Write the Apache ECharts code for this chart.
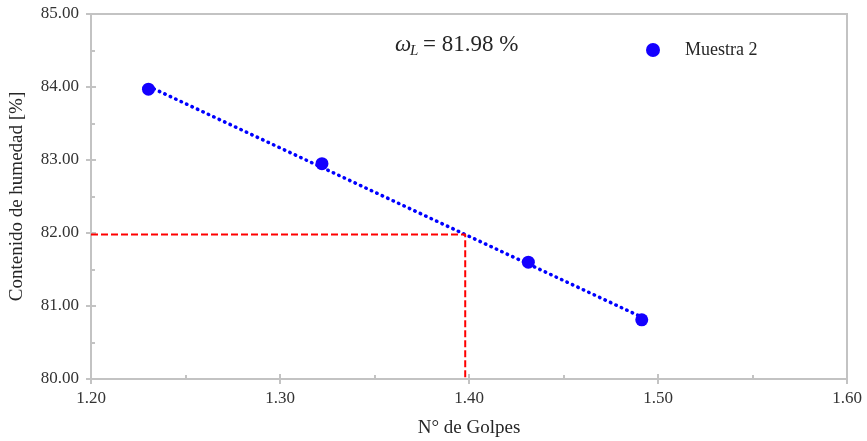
<!DOCTYPE html>
<html>
<head>
<meta charset="utf-8">
<script src="https://cdn.jsdelivr.net/npm/echarts@6/dist/echarts.min.js"></script>
<style>
  html, body { margin: 0; padding: 0; background: #ffffff; }
  #chart { width: 867px; height: 441px; }
</style>
</head>
<body>
<div id="chart"></div>
<script>
// log10 of the blow count for each test
const logGolpes = [1.2304, 1.3222, 1.4314, 1.4914];
// moisture content for each test [%]
const humedad = [83.97, 82.95, 81.60, 80.81];
// liquid limit read at 25 blows
const limiteLiquido = 81.98;
const logGolpes25 = 1.398;
const xTicks = { min: 1.2, max: 1.6, interval: 0.1 };
const yTicks = { min: 80, max: 85, interval: 1 };

// least-squares fit through the samples
function ajusteLineal(xs, ys) {
  const n = xs.length;
  const mx = xs.reduce((a, b) => a + b, 0) / n;
  const my = ys.reduce((a, b) => a + b, 0) / n;
  let sxy = 0, sxx = 0;
  for (let i = 0; i < n; i++) {
    sxy += (xs[i] - mx) * (ys[i] - my);
    sxx += (xs[i] - mx) * (xs[i] - mx);
  }
  const m = sxy / sxx;
  return x => my + m * (x - mx);
}
const recta = ajusteLineal(logGolpes, humedad);
const xIni = logGolpes[0], xFin = logGolpes[logGolpes.length - 1];

const FONT = '"Liberation Serif", "Times New Roman", serif';
const GRIS = '#c3c3c3';
const TEXTO = '#262626';

const puntos = logGolpes.map((x, i) => [x, humedad[i]]);

const chart = echarts.init(document.getElementById('chart'), null, { renderer: 'canvas' });

const axisBase = {
  type: 'value',
  axisLine: { show: true, lineStyle: { color: GRIS, width: 2 } },
  splitLine: { show: false }
};

chart.setOption({
  animation: false,
  backgroundColor: '#ffffff',
  grid: {
    left: 91, right: 20, top: 14, bottom: 62,
    containLabel: false, outerBoundsMode: 'none',
    show: true, borderColor: GRIS, borderWidth: 2
  },
  legend: {
    data: [{ name: 'Muestra 2', icon: 'circle' }],
    left: 641, top: 36,
    itemWidth: 14, itemHeight: 14,
    textStyle: { fontFamily: FONT, fontSize: 18, color: TEXTO, padding: [0, 0, 0, 20] }
  },
  xAxis: [
    Object.assign({}, axisBase, {
      min: xTicks.min, max: xTicks.max, interval: xTicks.interval,
      position: 'bottom',
      name: 'N° de Golpes', nameLocation: 'middle', nameGap: 40,
      nameTextStyle: { fontFamily: FONT, fontSize: 19, color: TEXTO },
      axisTick: { show: true, inside: false, length: 5, lineStyle: { color: GRIS, width: 2 } },
      axisLabel: { fontFamily: FONT, fontSize: 17, color: '#333333', margin: 11,
        formatter: v => v.toFixed(2) }
    }),
    Object.assign({}, axisBase, {
      min: xTicks.min, max: xTicks.max, interval: xTicks.interval,
      position: 'bottom', offset: 0,
      axisTick: { show: true, inside: true, length: 5, lineStyle: { color: GRIS, width: 2 } },
      minorTick: { show: true, splitNumber: 2, length: 4, lineStyle: { color: GRIS, width: 2 } },
      axisLabel: { show: false }
    })
  ],
  yAxis: [
    Object.assign({}, axisBase, {
      min: yTicks.min, max: yTicks.max, interval: yTicks.interval,
      position: 'left',
      name: 'Contenido de humedad [%]', nameLocation: 'middle', nameGap: 64, nameRotate: 90,
      nameTextStyle: { fontFamily: FONT, fontSize: 19, color: TEXTO },
      axisTick: { show: true, inside: false, length: 5, lineStyle: { color: GRIS, width: 2 } },
      axisLabel: { fontFamily: FONT, fontSize: 17, color: '#333333', margin: 12,
        formatter: v => v.toFixed(2) }
    }),
    Object.assign({}, axisBase, {
      min: yTicks.min, max: yTicks.max, interval: yTicks.interval,
      position: 'left', offset: 0,
      axisTick: { show: true, inside: true, length: 5, lineStyle: { color: GRIS, width: 2 } },
      minorTick: { show: true, splitNumber: 2, length: 4, lineStyle: { color: GRIS, width: 2 } },
      axisLabel: { show: false }
    })
  ],
  series: [
    {
      name: 'Tendencia',
      type: 'line',
      data: [[xIni, recta(xIni)], [xFin, recta(xFin)]],
      showSymbol: false,
      lineStyle: { color: '#0000ff', width: 3.5, type: [0.5, 5.5], cap: 'round' },
      z: 2, silent: true
    },
    {
      name: 'Limite',
      type: 'line',
      data: [[xTicks.min, limiteLiquido], [logGolpes25, limiteLiquido], [logGolpes25, yTicks.min]],
      showSymbol: false,
      lineStyle: { color: '#ff0000', width: 2, type: [7, 3] },
      z: 3, silent: true
    },
    {
      name: 'Muestra 2',
      type: 'scatter',
      data: puntos,
      symbol: 'circle',
      symbolSize: 13,
      itemStyle: { color: '#1400ff', opacity: 1 },
      z: 4
    }
  ],
  graphic: [
    {
      type: 'group', left: 395, top: 33,
      children: [
        { type: 'text', x: 0, y: 0,
          style: { text: 'ω', fontFamily: FONT, fontStyle: 'italic', fontSize: 23, fill: TEXTO } },
        { type: 'text', x: 15, y: 11,
          style: { text: 'L', fontFamily: FONT, fontStyle: 'italic', fontSize: 15, fill: TEXTO } },
        { type: 'text', x: 28, y: 0,
          style: { text: '= ' + limiteLiquido.toFixed(2) + ' %', fontFamily: FONT, fontSize: 23, fill: TEXTO } }
      ]
    }
  ]
});
</script>
</body>
</html>
